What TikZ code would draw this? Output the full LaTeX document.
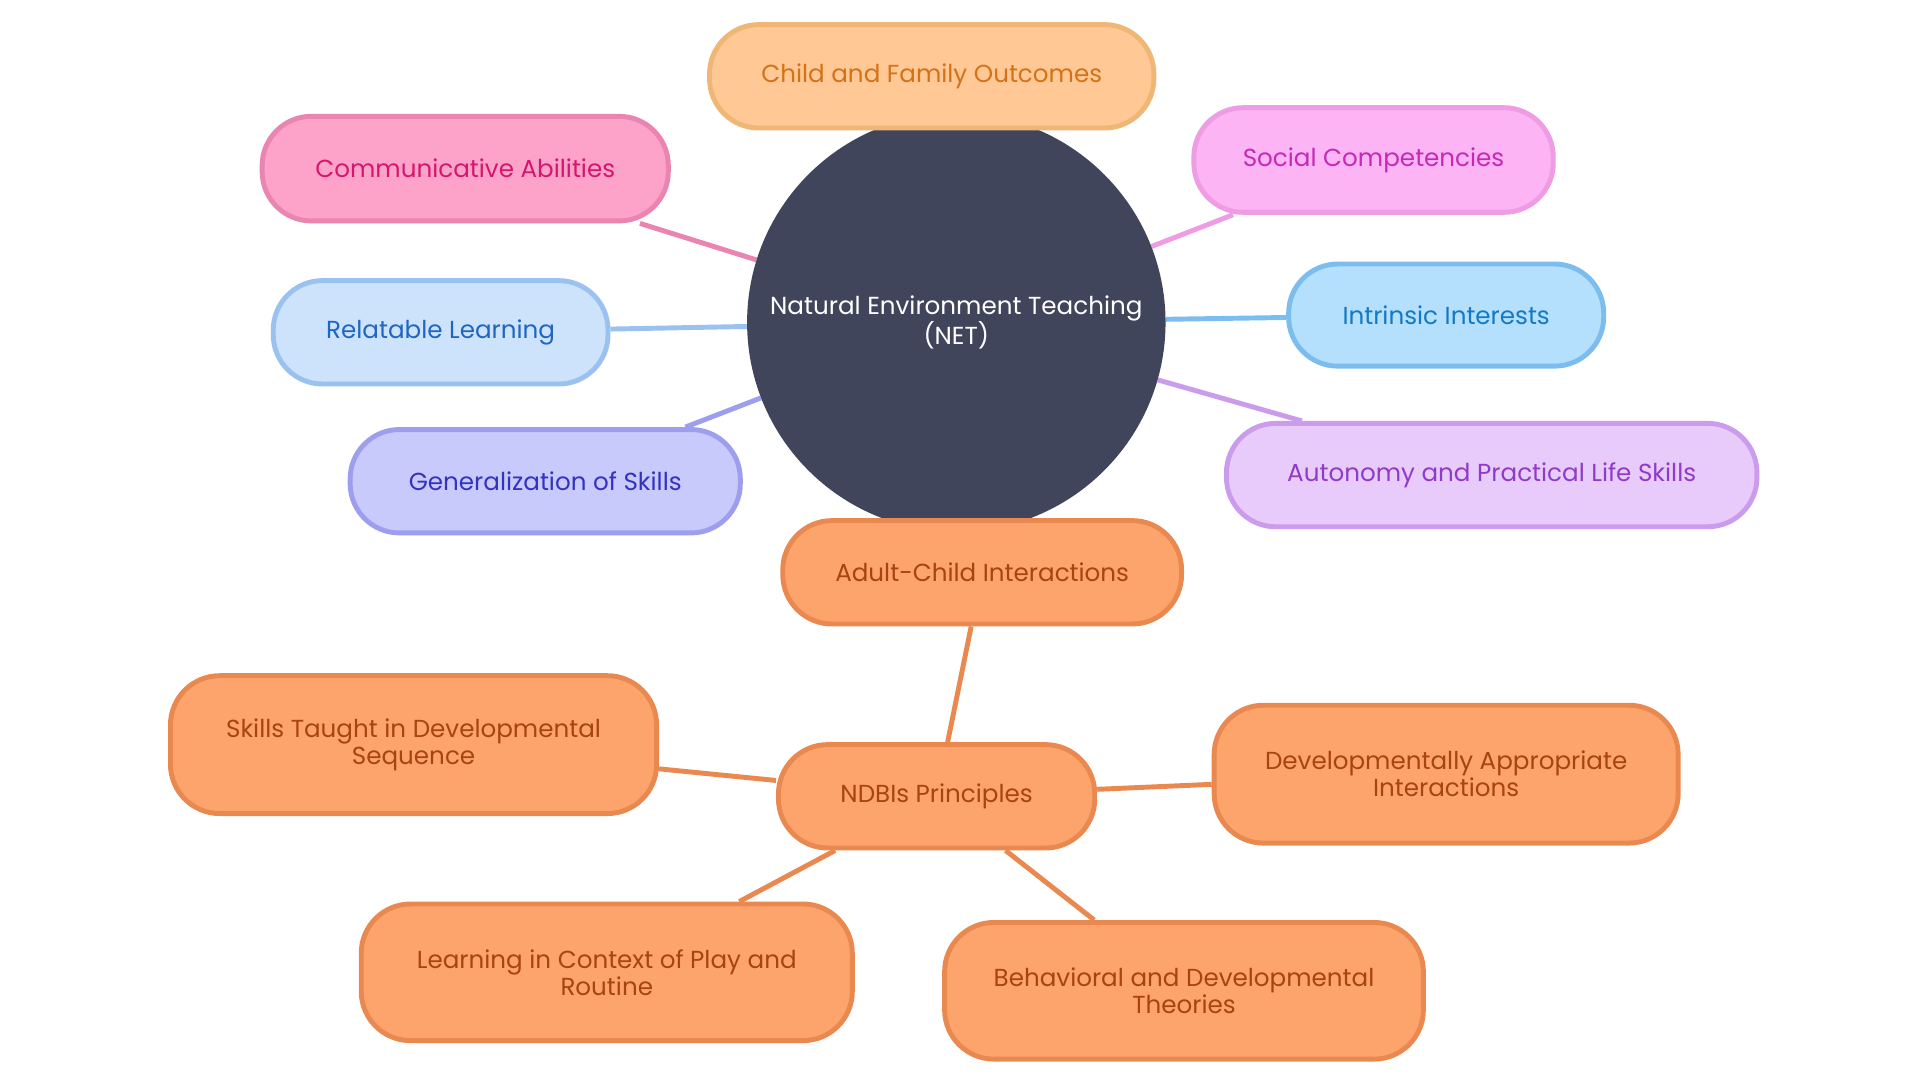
\documentclass[tikz,border=0pt]{standalone}
\usepackage{fontspec}
\setmainfont{Poppins}
\usetikzlibrary{backgrounds}
\definecolor{netfill}{HTML}{40455C}
\definecolor{orfill}{HTML}{FDA46D}\definecolor{ordraw}{HTML}{E9894F}\definecolor{ortext}{HTML}{A84312}
\definecolor{chfill}{HTML}{FFC894}\definecolor{chdraw}{HTML}{F0B676}\definecolor{chtext}{HTML}{D2731A}
\definecolor{cmfill}{HTML}{FDA3C9}\definecolor{cmdraw}{HTML}{E985B0}\definecolor{cmtext}{HTML}{D5166F}
\definecolor{scfill}{HTML}{FDB4F4}\definecolor{scdraw}{HTML}{EE9CE4}\definecolor{sctext}{HTML}{C42AB5}
\definecolor{rlfill}{HTML}{CDE3FB}\definecolor{rldraw}{HTML}{99C2F0}\definecolor{rltext}{HTML}{1F66C1}
\definecolor{iifill}{HTML}{B5E0FD}\definecolor{iidraw}{HTML}{7BBDEE}\definecolor{iitext}{HTML}{1479C4}
\definecolor{gsfill}{HTML}{C9CAFC}\definecolor{gsdraw}{HTML}{9D9FEE}\definecolor{gstext}{HTML}{3333BF}
\definecolor{aufill}{HTML}{E8CBFB}\definecolor{audraw}{HTML}{CC9CEC}\definecolor{autext}{HTML}{8E3CC8}
\tikzset{
  pill/.style args={#1/#2/#3}{draw=#1draw, fill=#1fill, text=#1text, line width=4pt,
    rounded corners=40pt, minimum width=#2pt, minimum height=#3pt, align=center,
    font=\fontsize{20}{22}\selectfont, inner sep=0pt},
  link/.style={line width=4pt, draw=#1draw}
}
\begin{document}
\begin{tikzpicture}[x=1pt,y=-1pt]
\useasboundingbox (0,0) rectangle (1560,878);
% centre
\node[circle, fill=netfill, text=white, minimum size=340pt, inner sep=0pt, align=center,
  font=\fontsize{20}{22}\selectfont] (net) at (777,262) {Natural Environment Teaching\\(NET)};
% branches
\node[pill=ch/361/84] (outcomes) at (757,62) {Child and Family Outcomes};
\node[pill=cm/330/85] (commun) at (378,137) {Communicative Abilities};
\node[pill=sc/292/85] (social) at (1116,130) {Social Competencies};
\node[pill=rl/272/84] (relat) at (358,270) {Relatable Learning};
\node[pill=ii/256/83] (intrin) at (1175,256) {Intrinsic Interests};
\node[pill=gs/317/84] (general) at (443,391) {Generalization of Skills};
\node[pill=au/431/84] (autonomy) at (1212,386) {Autonomy and Practical Life Skills};
\node[pill=or/324/84] (adult) at (798,465) {Adult-Child Interactions};
\node[pill=or/257/84] (ndbi) at (761,647) {NDBIs Principles};
\node[pill=or/395/112] (skills) at (336,605) {Skills Taught in Developmental\\Sequence};
\node[pill=or/377/112] (devapp) at (1175,629) {Developmentally Appropriate\\Interactions};
\node[pill=or/399/111] (play) at (493,790) {Learning in Context of Play and\\Routine};
\node[pill=or/389/111] (theory) at (962,805) {Behavioral and Developmental\\Theories};
% connectors
\begin{scope}[on background layer]
\draw[link=cm] (net) -- (commun);
\draw[link=sc] (net) -- (social);
\draw[link=rl] (net) -- (relat);
\draw[link=ii] (net) -- (intrin);
\draw[link=gs] (net) -- (general);
\draw[link=au] (net) -- (autonomy);
\draw[link=or] (adult) -- (ndbi);
\draw[link=or] (ndbi) -- (skills);
\draw[link=or] (ndbi) -- (devapp);
\draw[link=or] (ndbi) -- (play);
\draw[link=or] (ndbi) -- (theory);
\end{scope}
\end{tikzpicture}
\end{document}
